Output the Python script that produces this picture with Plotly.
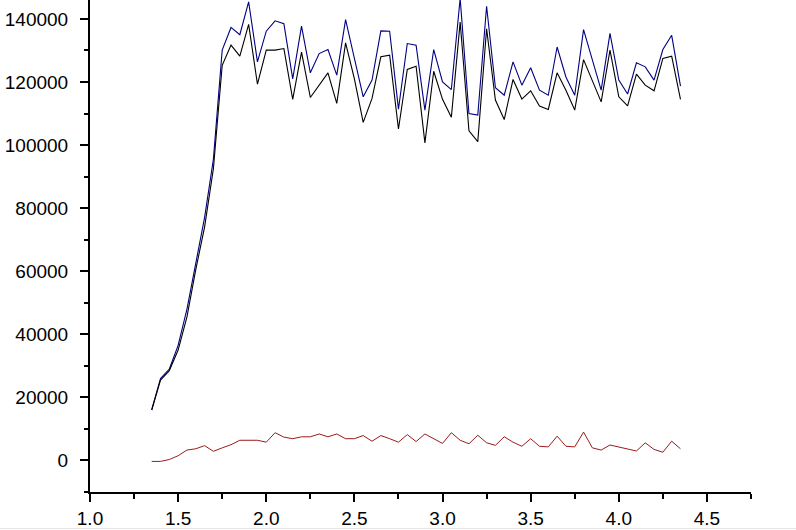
import plotly.graph_objects as go

# x positions: 1.35 .. 4.35 in steps of 0.05
x_vals = [1.35, 1.40, 1.45, 1.50, 1.55, 1.60, 1.65, 1.70, 1.75, 1.80,
          1.85, 1.90, 1.95, 2.00, 2.05, 2.10, 2.15, 2.20, 2.25, 2.30,
          2.35, 2.40, 2.45, 2.50, 2.55, 2.60, 2.65, 2.70, 2.75, 2.80,
          2.85, 2.90, 2.95, 3.00, 3.05, 3.10, 3.15, 3.20, 3.25, 3.30,
          3.35, 3.40, 3.45, 3.50, 3.55, 3.60, 3.65, 3.70, 3.75, 3.80,
          3.85, 3.90, 3.95, 4.00, 4.05, 4.10, 4.15, 4.20, 4.25, 4.30,
          4.35]

upper = [16000, 26000, 29000, 36500, 48000, 63000, 77000, 95500, 130100, 137300,
         135000, 145400, 126400, 136100, 139400, 138500, 121000, 137700, 122900, 129000,
         130300, 122200, 139800, 127500, 115300, 120600, 136200, 136100, 111400, 132200,
         131700, 111100, 130300, 120000, 117600, 146500, 110000, 109500, 144000, 118200,
         115800, 126400, 119000, 124500, 117400, 115800, 131100, 121600, 115800, 136600,
         127000, 117400, 135400, 120600, 116200, 126100, 124800, 120600, 130300, 134800,
         118700]

lower = [16000, 25500, 28500, 35000, 45500, 60500, 74000, 92500, 125300, 131700,
         128200, 138300, 119300, 130100, 130100, 130600, 114500, 129500, 115100, 119000,
         122900, 113200, 132400, 121000, 107200, 114800, 128000, 128500, 105100, 124000,
         125000, 100700, 123400, 114500, 108800, 139000, 104500, 101100, 136900, 114300,
         108100, 120800, 114600, 117200, 112400, 111300, 122900, 117400, 111100, 127100,
         120600, 113700, 130100, 115300, 112400, 122500, 119000, 117200, 127500, 128200,
         114500]

red = [-300, -300, 300, 1500, 3300, 3700, 4700, 2900, 4000, 5000,
       6400, 6400, 6400, 5800, 8800, 7400, 6900, 7500, 7500, 8400,
       7500, 8400, 6900, 6900, 7900, 6100, 7900, 6900, 5800, 8200,
       6000, 8400, 6900, 5400, 8800, 6400, 5300, 8000, 5600, 4800,
       7500, 5800, 4500, 6900, 4500, 4300, 7700, 4500, 4300, 9000,
       4000, 3300, 4900, 4200, 3500, 3000, 5600, 3500, 2600, 6100,
       3700]

fig = go.Figure()
fig.add_trace(go.Scatter(x=x_vals, y=upper, mode="lines",
                         line=dict(color="#000080", width=1.1)))
fig.add_trace(go.Scatter(x=x_vals, y=lower, mode="lines",
                         line=dict(color="#000000", width=1.1)))
fig.add_trace(go.Scatter(x=x_vals, y=red, mode="lines",
                         line=dict(color="#9b1b1b", width=1)))

tick_font = dict(family="Arial, Liberation Sans, sans-serif", size=19, color="black")

fig.update_layout(
    width=796, height=530,
    margin=dict(l=90, r=45, t=0, b=38),
    plot_bgcolor="white", paper_bgcolor="white",
    showlegend=False,
    xaxis=dict(range=[1.0, 4.75], dtick=0.5, tick0=1.0, tickformat=".1f",
               showgrid=False, zeroline=False, showline=True,
               linecolor="black", linewidth=2,
               ticks="outside", ticklen=8, tickwidth=2, tickcolor="black",
               minor=dict(ticks="outside", ticklen=5, tickwidth=2,
                          tickcolor="black", dtick=0.25, showgrid=False),
               tickfont=tick_font, ticklabelstandoff=0),
    yaxis=dict(range=[-10000, 146000], dtick=20000, tick0=0, tickformat="d",
               showgrid=False, zeroline=False, showline=True,
               linecolor="black", linewidth=2,
               ticks="outside", ticklen=8, tickwidth=2, tickcolor="black",
               minor=dict(ticks="outside", ticklen=4, tickwidth=2,
                          tickcolor="black", dtick=10000, showgrid=False),
               tickfont=tick_font, ticklabelstandoff=8),
)

# faint line along the bottom edge of the screenshot, under the tick labels
fig.add_shape(type="line", xref="paper", yref="paper", layer="below",
              x0=-0.14, x1=1.07, y0=-0.0745, y1=-0.0745,
              line=dict(color="#e4e4e4", width=1))

# drop the default page margin so the figure sits at the window's corner
fig.write_html("out.html", config={"displayModeBar": False},
               post_script="document.body.style.margin='0';")
